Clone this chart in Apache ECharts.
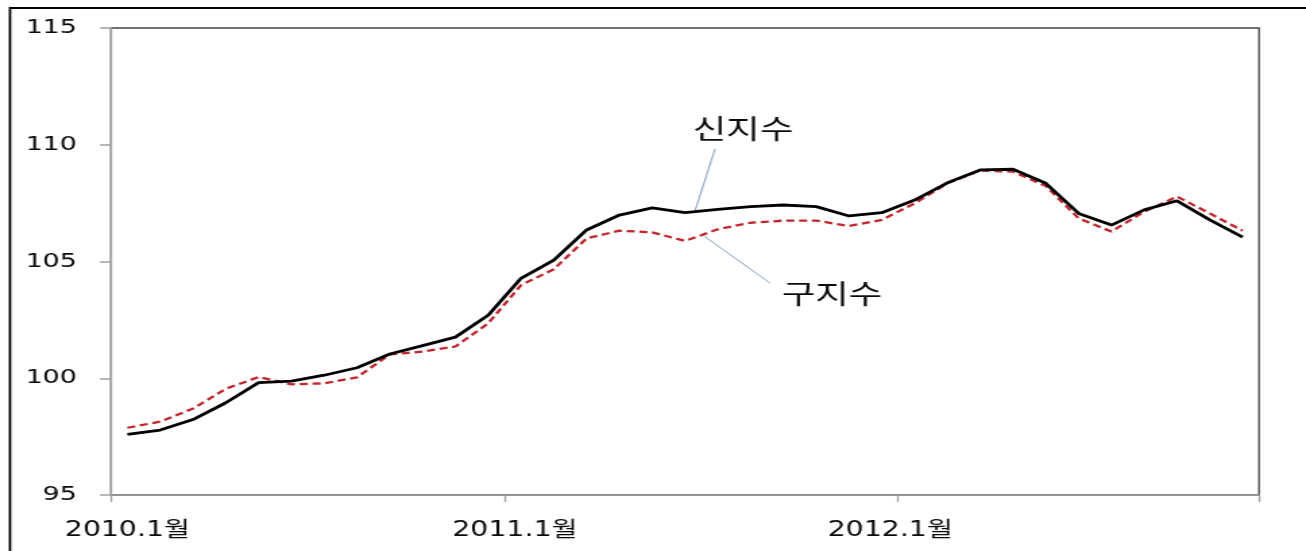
<!DOCTYPE html>
<html>
<head>
<meta charset="utf-8">
<script src="https://cdn.jsdelivr.net/npm/echarts@6/dist/echarts.min.js"></script>
<style>
html,body{margin:0;padding:0;background:#fff;overflow:hidden;}
#wrap{width:1306px;height:551px;overflow:hidden;}
#chart{width:968px;height:551px;transform-origin:0 0;}
</style>
</head>
<body>
<div id="wrap"><div id="chart"></div></div>
<script>
var categories = ['2010.1월','2010.2월','2010.3월','2010.4월','2010.5월','2010.6월','2010.7월','2010.8월','2010.9월','2010.10월','2010.11월','2010.12월',
  '2011.1월','2011.2월','2011.3월','2011.4월','2011.5월','2011.6월','2011.7월','2011.8월','2011.9월','2011.10월','2011.11월','2011.12월',
  '2012.1월','2012.2월','2012.3월','2012.4월','2012.5월','2012.6월','2012.7월','2012.8월','2012.9월','2012.10월','2012.11월'];
var newIndex = [97.60,97.78,98.23,98.95,99.81,99.88,100.13,100.45,101.04,101.40,101.76,102.70,
  104.28,105.06,106.35,106.99,107.30,107.09,107.23,107.35,107.42,107.35,106.95,107.09,
  107.63,108.37,108.92,108.95,108.35,107.06,106.56,107.21,107.60,106.78,106.04];
var oldIndex = [97.88,98.14,98.70,99.55,100.05,99.74,99.78,100.04,101.02,101.14,101.36,102.35,
  103.99,104.67,105.99,106.32,106.25,105.88,106.38,106.66,106.75,106.75,106.52,106.78,
  107.49,108.35,108.89,108.85,108.23,106.85,106.28,107.13,107.78,107.06,106.32];
var yTicks = {min:95, max:115, interval:5};

// The reference picture is horizontally stretched; draw narrower and stretch.
var S = 1306 / 968;
var el = document.getElementById('chart');
el.style.transform = 'scaleX(' + S + ')';
function X(px){ return px / S; }

var xData = categories.map(function(c){
  if (c === '2011.1월') return {value:c, textStyle:{padding:[0,9,0,0]}};
  if (c === '2012.1월') return {value:c, textStyle:{padding:[0,36,0,0]}};
  return c;
});

var FONT = "'DejaVu Sans','Noto Sans CJK KR',sans-serif";
var chart = echarts.init(el);
chart.setOption({
  animation:false,
  backgroundColor:'#ffffff',
  grid:{left:X(111), right:X(47), top:28, bottom:56, show:true, borderColor:'#444444', borderWidth:1.3, backgroundColor:'transparent'},
  xAxis:{
    type:'category', data:xData, boundaryGap:true,
    axisLine:{lineStyle:{color:'#a0a0a0', width:1.5}},
    axisTick:{show:true, interval:11, length:7, lineStyle:{color:'#a0a0a0', width:1.3}},
    axisLabel:{interval:11, color:'#0a0a0a', fontSize:21, fontFamily:FONT, margin:25},
    splitLine:{show:false}
  },
  yAxis:{
    type:'value', min:yTicks.min, max:yTicks.max, interval:yTicks.interval,
    axisLine:{show:true, lineStyle:{color:'#a0a0a0', width:1.3}},
    axisTick:{show:true, inside:false, length:X(11), lineStyle:{color:'#a0a0a0', width:1.5}},
    axisLabel:{color:'#0a0a0a', fontSize:20, fontFamily:FONT, margin:X(34)},
    splitLine:{show:false}
  },
  series:[
    {name:'구지수', type:'line', data:oldIndex, symbol:'none', z:2,
     lineStyle:{color:'#c0262d', width:2.3, type:[6,3.5]}},
    {name:'신지수', type:'line', data:newIndex, symbol:'none', z:3,
     lineStyle:{color:'#000000', width:2.8}}
  ],
  graphic:[
    {type:'rect', shape:{x:X(10), y:8, width:2000, height:600}, style:{fill:'none', stroke:'#000', lineWidth:1.8}, silent:true},
    {type:'line', shape:{x1:X(715), y1:149, x2:X(695), y2:211}, style:{stroke:'#7f9cc0', lineWidth:1}},
    {type:'line', shape:{x1:X(704), y1:236, x2:X(770), y2:283}, style:{stroke:'#7f9cc0', lineWidth:1}},
    {type:'text', x:X(743), y:129, style:{text:'신지수', fill:'#0a0a0a', font:"27px 'Noto Sans CJK KR',sans-serif", textAlign:'center', textVerticalAlign:'middle'}},
    {type:'text', x:X(832), y:294, style:{text:'구지수', fill:'#0a0a0a', font:"27px 'Noto Sans CJK KR',sans-serif", textAlign:'center', textVerticalAlign:'middle'}}
  ]
});
</script>
</body>
</html>
